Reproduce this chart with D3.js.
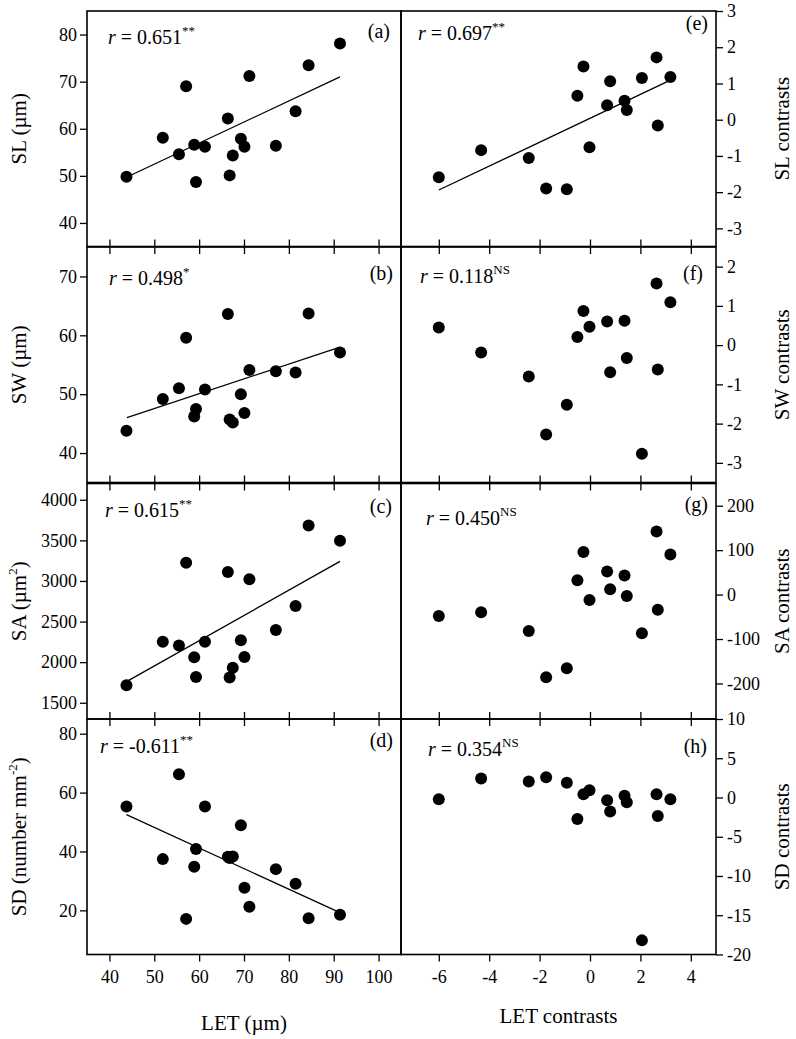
<!DOCTYPE html>
<html><head><meta charset="utf-8">
<script src="https://cdn.jsdelivr.net/npm/d3@7"></script>
<style>
body{margin:0;background:#fff}
svg{display:block}
text{font-family:"Liberation Serif","Times New Roman",serif;fill:#000}
</style>
</head><body>
<svg id="c" width="796" height="1039"></svg>
<script>
// ---------------- data ----------------
const LET = [43.8, 51.9, 55.5, 57.1, 58.9, 59.3, 61.3, 66.4, 66.8, 67.5, 69.3, 70.1, 71.2, 77.1, 81.5, 84.4, 91.4];
const SL  = [49.8, 58.1, 54.6, 69.0, 56.6, 48.7, 56.2, 62.2, 50.1, 54.3, 57.9, 56.2, 71.2, 56.4, 63.7, 73.5, 78.1];
const SW  = [43.8, 49.2, 51.0, 59.6, 46.2, 47.5, 50.8, 63.6, 45.7, 45.2, 50.0, 46.8, 54.1, 53.9, 53.7, 63.7, 57.1];
const SA  = [1716, 2250, 2205, 3225, 2059, 1818, 2250, 3111, 1810, 1932, 2271, 2063, 3021, 2397, 2691, 3682, 3494];
const SD  = [55.3, 37.4, 66.2, 17.1, 34.8, 40.8, 55.3, 38.2, 37.8, 38.3, 48.9, 27.7, 21.2, 34.0, 29.0, 17.3, 18.5];

const LETc = [-6.0, -4.32, -2.43, -1.74, -0.92, -0.50, -0.26, -0.02, 0.68, 0.80, 1.37, 1.46, 2.06, 2.64, 2.69, 3.19];
const SLc  = [-1.59, -0.84, -1.06, -1.90, -1.92, 0.66, 1.47, -0.76, 0.40, 1.06, 0.52, 0.27, 1.15, 1.72, -0.16, 1.18];
const SWc  = [0.45, -0.19, -0.80, -2.28, -1.52, 0.21, 0.87, 0.47, 0.60, -0.69, 0.62, -0.33, -2.77, 1.57, -0.62, 1.09];
const SAc  = [-48, -40, -82, -186, -166, 32, 96, -12, 52, 12, 43, -3, -87, 142, -34, 90];
const SDc  = [-0.22, 2.42, 2.04, 2.59, 1.87, -2.73, 0.42, 0.93, -0.34, -1.79, 0.21, -0.60, -18.2, 0.42, -2.35, -0.22];

// regression lines (end points)
const fitA = [[43.8, 49.7], [91.4, 71.0]];
const fitB = [[43.9, 46.0], [91.4, 58.0]];
const fitC = [[44.1, 1769], [91.4, 3241]];
const fitD = [[43.8, 52.5], [91.4, 19.2]];
const fitE = [[-6.0, -1.94], [3.19, 1.09]];

const xTicksLeft  = [40, 50, 60, 70, 80, 90, 100];
const xTicksRight = [-6, -4, -2, 0, 2, 4];
const yTicksLeft  = [[40,50,60,70,80],[40,50,60,70],[1500,2000,2500,3000,3500,4000],[20,40,60,80]];
const yTicksRight = [[-3,-2,-1,0,1,2,3],[-3,-2,-1,0,1,2],[-200,-100,0,100,200],[-20,-15,-10,-5,0,5,10]];
const yDomLeft  = [[35,85],[35,75],[1300,4200],[5,85]];
const yDomRight = [[-3.5,3],[-3.5,2.5],[-280,250],[-20,10]];
const xDomLeft  = [35,105];
const xDomRight = [-7.5,5];

const rLeft   = ["0.651","0.498","0.615","-0.611"];
const sigLeft = ["**","*","**","**"];
const rRight  = ["0.697","0.118","0.450","0.354"];
const sigRight= ["**","NS","NS","NS"];
const lettersLeft  = ["(a)","(b)","(c)","(d)"];
const lettersRight = ["(e)","(f)","(g)","(h)"];
const titlesLeft = [["SL (\u00b5m)"],["SW (\u00b5m)"],["SA (\u00b5m","2",")"],["SD (number mm","-2",")"]];
const titlesRight = ["SL contrasts","SW contrasts","SA contrasts","SD contrasts"];
const xTitleLeft = "LET (\u00b5m)";
const xTitleRight = "LET contrasts";

// ---------------- layout ----------------
const X0 = 87, XM = 401, X1 = 716;
const tops = [11, 247, 483.5, 719];
const H = 235.5;
const rPosL = [[21,33],[22,38],[18,33],[13,33.5]];   // offset from panel top-left
const rPosR = [[17,29],[19,35.5],[25,41],[27,37]];
const letPosL = [[11,27],[8,33],[9,29.5],[8,28]];    // offset from panel top-right
const letPosR = [[8,19],[13,33],[8,27],[9,34]];

const svg = d3.select("#c");
const fmt = d => String(d);

const xL = d3.scaleLinear().domain(xDomLeft).range([X0, XM]);
const xR = d3.scaleLinear().domain(xDomRight).range([XM, X1]);

function rText(g, x, y, val, sig){
  const t = g.append("text").attr("x", x).attr("y", y).attr("font-size", 20);
  t.append("tspan").attr("font-style","italic").text("r");
  t.append("tspan").text(" = " + val);
  t.append("tspan").attr("font-size", 13).attr("dy", -9).text(sig);
}

function panel(i, side){
  const left = side === "L";
  const x = left ? xL : xR;
  const xa = left ? X0 : XM, xb = left ? XM : X1;
  const top = tops[i], bot = top + H;
  const y = d3.scaleLinear().domain(left ? yDomLeft[i] : yDomRight[i]).range([bot, top]);
  const xs = left ? LET : LETc;
  const ys = left ? [SL,SW,SA,SD][i] : [SLc,SWc,SAc,SDc][i];
  const xt = left ? xTicksLeft : xTicksRight;
  const g = svg.append("g");

  // x ticks
  if (i < 3) {
    g.append("g").attr("transform",`translate(0,${bot})`)
      .call(d3.axisBottom(x).tickValues(xt).tickSize(-7).tickFormat("")).call(s=>s.select(".domain").remove());
  } else {
    g.append("g").attr("transform",`translate(0,${bot})`)
      .call(d3.axisBottom(x).tickValues(xt).tickSize(7).tickPadding(9).tickFormat(fmt))
      .call(s=>s.select(".domain").remove())
      .call(s=>s.selectAll("text").attr("font-size",18).attr("font-family","Liberation Serif"));
  }
  if (i > 0) {
    g.append("g").attr("transform",`translate(0,${top})`)
      .call(d3.axisTop(x).tickValues(xt).tickSize(-7).tickFormat("")).call(s=>s.select(".domain").remove());
  }
  // y axis
  if (left) {
    g.append("g").attr("transform",`translate(${X0},0)`)
      .call(d3.axisLeft(y).tickValues(yTicksLeft[i]).tickSize(7).tickPadding(3).tickFormat(fmt))
      .call(s=>s.select(".domain").remove())
      .call(s=>s.selectAll("text").attr("font-size",18).attr("font-family","Liberation Serif"));
  } else {
    g.append("g").attr("transform",`translate(${X1},0)`)
      .call(d3.axisRight(y).tickValues(yTicksRight[i]).tickSize(7).tickPadding(4).tickFormat(fmt))
      .call(s=>s.select(".domain").remove())
      .call(s=>s.selectAll("text").attr("font-size",18).attr("font-family","Liberation Serif"));
  }
  g.selectAll(".tick line").attr("stroke","#000").attr("stroke-width",1.3);

  // frame
  g.append("rect").attr("x",xa).attr("y",top).attr("width",xb-xa).attr("height",H)
    .attr("fill","none").attr("stroke","#000").attr("stroke-width",1.6);

  // fit line
  const fit = left ? [fitA,fitB,fitC,fitD][i] : [fitE,null,null,null][i];
  if (fit) {
    g.append("path").attr("d", d3.line().x(d=>x(d[0])).y(d=>y(d[1]))(fit))
      .attr("stroke","#000").attr("stroke-width",1.3).attr("fill","none");
  }
  // points
  g.selectAll("circle.pt").data(xs.map((v,k)=>[v, ys[k]])).join("circle")
    .attr("class","pt").attr("cx",d=>x(d[0])).attr("cy",d=>y(d[1])).attr("r",6).attr("fill","#000");

  // r text
  const rp = left ? rPosL[i] : rPosR[i];
  rText(g, xa + rp[0], top + rp[1], left ? rLeft[i] : rRight[i], left ? sigLeft[i] : sigRight[i]);
  // letter
  const lp = left ? letPosL[i] : letPosR[i];
  g.append("text").attr("x", xb - lp[0]).attr("y", top + lp[1]).attr("text-anchor","end")
    .attr("font-size",20).text(left ? lettersLeft[i] : lettersRight[i]);

  // y title
  const cy = (top + bot) / 2;
  if (left) {
    const t = g.append("text").attr("transform",`translate(26,${cy}) rotate(-90)`)
      .attr("text-anchor","middle").attr("font-size",21);
    const parts = titlesLeft[i];
    t.append("tspan").text(parts[0]);
    if (parts.length > 1) {
      t.append("tspan").attr("font-size",13).attr("dy",-9).text(parts[1]);
      t.append("tspan").attr("dy",9).text(parts[2]);
    }
  } else {
    g.append("text").attr("transform",`translate(789,${cy}) rotate(-90)`)
      .attr("text-anchor","middle").attr("font-size",21).text(titlesRight[i]);
  }
}

for (let i = 0; i < 4; i++) { panel(i, "L"); panel(i, "R"); }

svg.append("text").attr("x", (X0+XM)/2).attr("y", 1030).attr("text-anchor","middle")
  .attr("font-size",21).text(xTitleLeft);
svg.append("text").attr("x", (XM+X1)/2).attr("y", 1023).attr("text-anchor","middle")
  .attr("font-size",21).text(xTitleRight);
</script>
</body></html>
